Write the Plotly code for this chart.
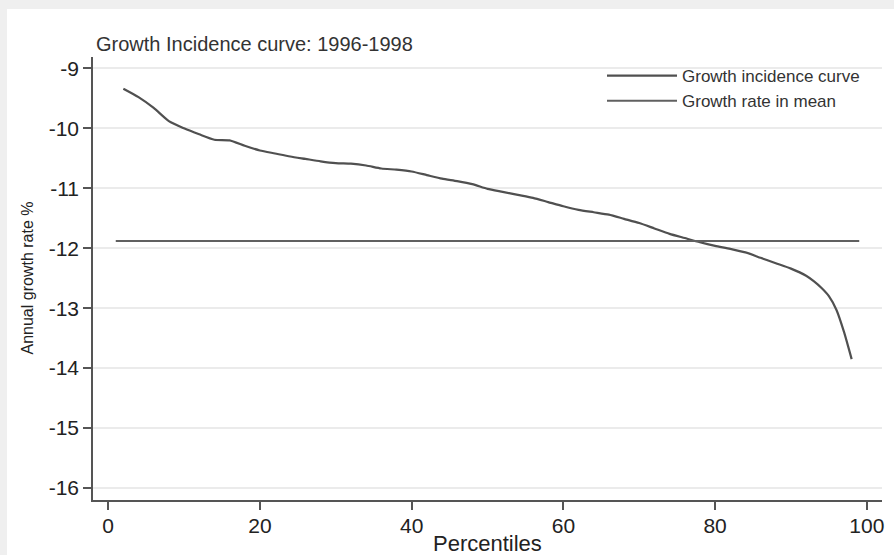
import plotly.graph_objects as go

# Data
percentiles = [2, 4, 6, 8, 10, 12, 14, 16, 18, 20, 22, 24, 26, 28, 30, 32, 34, 36, 38, 40,
               42, 44, 46, 48, 50, 52, 54, 56, 58, 60, 62, 64, 66, 68, 70, 72, 74, 76, 78, 80,
               82, 84, 86, 88, 90, 92, 93, 94, 95, 96, 97, 98]
growth = [-9.34, -9.48, -9.66, -9.88, -10.00, -10.10, -10.19, -10.20, -10.29, -10.37,
          -10.42, -10.47, -10.51, -10.55, -10.58, -10.59, -10.62, -10.67, -10.69, -10.72,
          -10.78, -10.84, -10.88, -10.93, -11.01, -11.06, -11.11, -11.16, -11.23, -11.30,
          -11.36, -11.40, -11.44, -11.51, -11.58, -11.67, -11.76, -11.83, -11.90, -11.96,
          -12.01, -12.07, -12.16, -12.25, -12.34, -12.46, -12.55, -12.66, -12.80, -13.03,
          -13.40, -13.85]
mean_x = [1, 99]
mean_rate = [-11.88, -11.88]

y_ticks = [-9, -10, -11, -12, -13, -14, -15, -16]
y_tick_labels = ["-9", "-10", "-11", "-12", "-13", "-14", "-15", "-16"]
x_ticks = [0, 20, 40, 60, 80, 100]
x_tick_labels = ["0", "20", "40", "60", "80", "100"]

W, H = 894, 555
ML, MR, MT, MB = 93, 12, 57, 55
PW, PH = W - ML - MR, H - MT - MB

fig = go.Figure()
fig.add_trace(go.Scatter(x=percentiles, y=growth, mode="lines", name="Growth incidence curve",
                         line=dict(color="#505050", width=2.2, shape="spline", smoothing=0.6)))
fig.add_trace(go.Scatter(x=mean_x, y=mean_rate, mode="lines", name="Growth rate in mean",
                         line=dict(color="#606060", width=2)))

font = "Liberation Sans, Arial, Helvetica, sans-serif"

fig.update_layout(
    width=W, height=H,
    margin=dict(l=ML, r=MR, t=MT, b=MB, autoexpand=False),
    paper_bgcolor="#efefef",
    plot_bgcolor="white",
    font=dict(family=font, color="#222222"),
    title=dict(text="Growth Incidence curve: 1996-1998", x=96 / W, xanchor="left",
               y=1 - 44 / H, yanchor="middle", font=dict(size=20, color="#333333")),
    showlegend=True,
    legend=dict(x=(602 - ML) / PW, xanchor="left", y=1 - (58 - MT) / PH, yanchor="top",
                bgcolor="rgba(255,255,255,0)", font=dict(size=17, color="#333333"),
                itemwidth=70, tracegroupgap=0),
    shapes=[dict(type="rect", xref="paper", yref="paper",
                 x0=(7 - ML) / PW, x1=(W - ML) / PW + 0.01,
                 y0=-(MB + 5) / PH, y1=1 + (MT - 9) / PH,
                 fillcolor="white", line=dict(width=0), layer="below")],
    annotations=[
        dict(text="Percentiles", xref="paper", yref="paper", x=0.5, y=-(543 - (MT + PH)) / PH,
             xanchor="center", yanchor="middle", showarrow=False,
             font=dict(size=22, color="#222222")),
        dict(text="Annual growth rate %", xref="paper", yref="paper", x=-(ML - 27) / PW, y=0.5,
             xanchor="center", yanchor="middle", showarrow=False, textangle=-90,
             font=dict(size=16, color="#222222")),
    ],
)

fig.update_xaxes(range=[-2, 102], tickvals=x_ticks, ticktext=x_tick_labels, automargin=False,
                 showgrid=False, zeroline=False, showline=True, linecolor="#555555", linewidth=1.5,
                 ticks="outside", ticklen=8, tickcolor="#555555", tickwidth=1.5,
                 ticklabelstandoff=-2,
                 tickfont=dict(size=21, color="#222222"))
fig.update_yaxes(range=[-16.2, -8.81], tickvals=y_ticks, ticktext=y_tick_labels, automargin=False,
                 showgrid=True, gridcolor="#ebebeb", gridwidth=1.5, zeroline=False,
                 showline=True, linecolor="#555555", linewidth=1.5,
                 ticks="outside", ticklen=8, tickcolor="#555555", tickwidth=1.5,
                 tickfont=dict(size=21, color="#222222"))

fig.write_html("out.html")
